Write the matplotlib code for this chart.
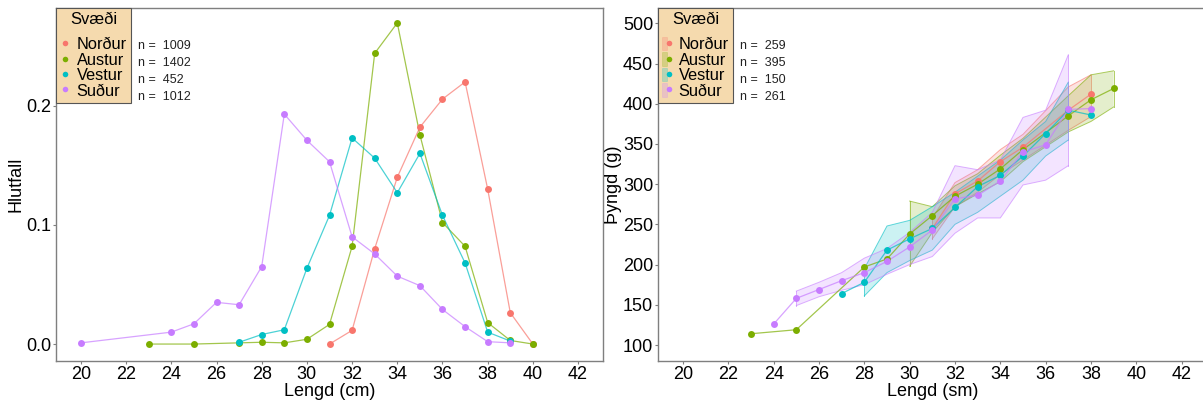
import matplotlib
matplotlib.use("Agg")
import matplotlib.pyplot as plt
from matplotlib.lines import Line2D
from matplotlib.patches import Patch
from matplotlib.legend_handler import HandlerTuple

plt.rcParams["font.family"] = ["Liberation Sans", "DejaVu Sans"]

regions = ["Norður", "Austur", "Vestur", "Suður"]
colors = ["#F8766D", "#7CAE00", "#00BFC4", "#C77CFF"]
n_len = [1009, 1402, 452, 1012]
n_wt = [259, 395, 150, 261]

# Hlutfall eftir lengd
len_nord = [31, 32, 33, 34, 35, 36, 37, 38, 39, 40]
hl_nord = [0.0, 0.0115, 0.080, 0.140, 0.182, 0.2056, 0.220, 0.130, 0.0263, 0.0]
len_aust = [23, 25, 27, 28, 29, 30, 31, 32, 33, 34, 35, 36, 37, 38, 39, 40]
hl_aust = [0.0, 0.0, 0.001, 0.0015, 0.001, 0.004, 0.0165, 0.082, 0.244, 0.2695,
           0.1756, 0.102, 0.082, 0.018, 0.003, 0.0]
len_vest = [27, 28, 29, 30, 31, 32, 33, 34, 35, 36, 37, 38, 39]
hl_vest = [0.0015, 0.008, 0.012, 0.0636, 0.108, 0.173, 0.156, 0.127, 0.160,
           0.108, 0.068, 0.010, 0.0025]
len_sud = [20, 24, 25, 26, 27, 28, 29, 30, 31, 32, 33, 34, 35, 36, 37, 38, 39]
hl_sud = [0.001, 0.010, 0.017, 0.035, 0.033, 0.065, 0.193, 0.171, 0.153, 0.090,
          0.0756, 0.057, 0.049, 0.029, 0.0146, 0.002, 0.001]

# Þyngd eftir lengd (meðaltal)
wl_nord = [31, 32, 33, 34, 35, 37, 38]
wt_nord = [245, 288, 304, 328, 346, 392, 412]
wl_aust = [23, 25, 28, 29, 30, 31, 32, 33, 34, 35, 37, 38, 39]
wt_aust = [114, 119, 197, 207, 238, 261, 285, 300, 319, 343, 385, 405, 419]
wl_vest = [27, 28, 29, 30, 31, 32, 33, 34, 35, 36, 37, 38]
wt_vest = [164, 178, 218, 232, 245, 271, 297, 311, 335, 363, 392, 386]
wl_sud = [24, 25, 26, 27, 28, 29, 30, 31, 32, 33, 34, 35, 36, 37, 38]
wt_sud = [126, 158, 169, 180, 190, 204, 222, 243, 282, 286, 304, 340, 349, 393, 394]

# borðar (neðri / efri mörk)
rb_nord_x = [31, 32, 33, 34, 35, 37, 38]
rb_nord_lo = [232, 272, 290, 312, 330, 367, 384]
rb_nord_hi = [258, 302, 318, 343, 362, 421, 436]
rb_aust_x = [30, 31, 32, 33, 34, 35, 37, 38, 39]
rb_aust_lo = [198, 240, 272, 288, 303, 328, 365, 378, 396]
rb_aust_hi = [279, 272, 298, 313, 336, 357, 410, 436, 441]
rb_vest_x = [28, 29, 30, 31, 32, 33, 34, 35, 36, 37]
rb_vest_lo = [161, 190, 205, 218, 250, 265, 285, 305, 335, 355]
rb_vest_hi = [195, 248, 255, 272, 290, 310, 330, 355, 378, 427]
rb_sud_x = [25, 26, 27, 28, 29, 30, 31, 32, 33, 34, 35, 36, 37]
rb_sud_lo = [149, 160, 168, 175, 188, 200, 210, 239, 258, 258, 299, 305, 323]
rb_sud_hi = [167, 178, 190, 208, 220, 240, 265, 323, 318, 330, 383, 392, 461]

len_series = [(len_nord, hl_nord), (len_aust, hl_aust), (len_vest, hl_vest), (len_sud, hl_sud)]
wt_series = [(wl_nord, wt_nord), (wl_aust, wt_aust), (wl_vest, wt_vest), (wl_sud, wt_sud)]
rb_series = [(rb_nord_x, rb_nord_lo, rb_nord_hi), (rb_aust_x, rb_aust_lo, rb_aust_hi),
             (rb_vest_x, rb_vest_lo, rb_vest_hi), (rb_sud_x, rb_sud_lo, rb_sud_hi)]

xticks = list(range(20, 43, 2))
legend_bg = "#F5DAAE"
spine_col = "#7F7F7F"

fig = plt.figure(figsize=(12.03, 4.03), dpi=100)
ax1 = fig.add_axes([0.0466, 0.104, 0.4546, 0.876])
ax2 = fig.add_axes([0.547, 0.104, 0.456, 0.876])


def style_axes(ax):
    for s in ax.spines.values():
        s.set_color(spine_col)
        s.set_linewidth(1.0)
    ax.tick_params(axis="both", colors=spine_col, labelcolor="black",
                   labelsize=13, length=2, width=0.8, pad=1.5)
    ax.set_xticks(xticks)
    ax.set_xlim(18.9, 43.1)


# vinstri mynd
for (x, y), c in zip(len_series, colors):
    ax1.plot(x, y, color=c, lw=0.9, alpha=0.7, zorder=2)
    ax1.plot(x, y, "o", color=c, ms=5, mec="none", zorder=3)
style_axes(ax1)
ax1.set_ylim(-0.0143, 0.282)
ax1.set_yticks([0.0, 0.1, 0.2])
ax1.set_yticklabels(["0.0", "0.1", "0.2"])
ax1.set_xlabel("Lengd (cm)", fontsize=13, labelpad=0)
ax1.set_ylabel("Hlutfall", fontsize=13)
ax1.yaxis.set_label_coords(-0.057, 0.5)

handles1 = [Line2D([], [], ls="none", marker="o", ms=4, mec="none", color=c) for c in colors]

# hægri mynd
for (rx, lo, hi), c in zip(rb_series, colors):
    ax2.fill_between(rx, lo, hi, facecolor=c, alpha=0.2, lw=0, zorder=1)
    ax2.plot(rx, lo, color=c, lw=0.7, alpha=0.6, zorder=1)
    ax2.plot(rx, hi, color=c, lw=0.7, alpha=0.6, zorder=1)
    ax2.plot([rx[0], rx[0]], [lo[0], hi[0]], color=c, lw=0.7, alpha=0.6, zorder=1)
    ax2.plot([rx[-1], rx[-1]], [lo[-1], hi[-1]], color=c, lw=0.7, alpha=0.6, zorder=1)
for (x, y), c in zip(wt_series, colors):
    ax2.plot(x, y, color=c, lw=0.9, alpha=0.7, zorder=2)
    ax2.plot(x, y, "o", color=c, ms=5, mec="none", zorder=3)
style_axes(ax2)
ax2.set_ylim(80, 519)
ax2.set_yticks(range(100, 501, 50))
ax2.set_xlabel("Lengd (sm)", fontsize=13, labelpad=0)
ax2.set_ylabel("Þyngd (g)", fontsize=13)
ax2.yaxis.set_label_coords(-0.066, 0.5)

handles2 = [(Patch(facecolor=c, alpha=0.25, edgecolor=c, lw=0.5),
             Line2D([], [], ls="none", marker="o", ms=4, mec="none", color=c)) for c in colors]

for ax, handles, ns in [(ax1, handles1, n_len), (ax2, handles2, n_wt)]:
    leg = ax.legend(handles, regions, title="Svæði", loc="upper left",
                    bbox_to_anchor=(0, 1), borderaxespad=0, fontsize=11.8,
                    title_fontsize=12, frameon=True, fancybox=False,
                    facecolor=legend_bg, edgecolor="#555555", framealpha=1,
                    handlelength=0.55, handleheight=0.9, handletextpad=0.45,
                    labelspacing=0.0, borderpad=0.25,
                    handler_map={tuple: HandlerTuple(ndivide=None, pad=0)})
    leg.get_frame().set_linewidth(0.8)
    leg._legend_box.align = "center"
    leg._legend_box.sep = 7
    leg.set_zorder(5)
    for i, n in enumerate(ns):
        ax.text(0.149, 0.893 - i * 0.0485, f"n =  {n}", transform=ax.transAxes,
                fontsize=9, va="center", ha="left", color="#222222", zorder=6)

fig.savefig("out.png", dpi=100)
